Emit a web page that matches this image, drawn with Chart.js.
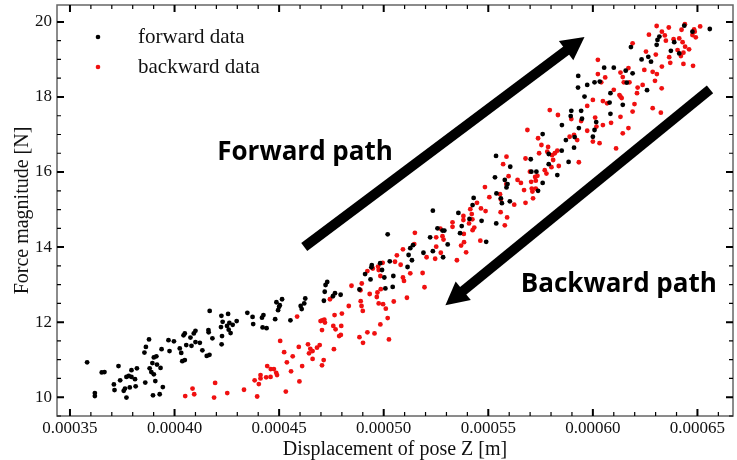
<!DOCTYPE html>
<html>
<head>
<meta charset="utf-8">
<script src="https://cdn.jsdelivr.net/npm/chart.js@4"></script>
<style>
  html, body { margin: 0; padding: 0; background: #fff; }
  #wrap { width: 737px; height: 460px; }
</style>
</head>
<body>
<div id="wrap"><canvas id="chart"></canvas></div>
<script>
// tick values
const xTicks = [0.00035, 0.0004, 0.00045, 0.0005, 0.00055, 0.0006, 0.00065];
const yTicks = [10, 12, 14, 16, 18, 20];

// forward run (black)
const forwardDisp = [
  0.0003582,0.0003619,0.0003619,0.0003652,0.0003665,0.0003732,0.0003710,0.0003713,0.0003740,0.0003757,
  0.0003763,0.0003770,0.0003770,0.0003781,0.0003786,0.0003794,0.0003794,0.0003811,0.0003814,0.0003820,
  0.0003856,0.0003863,0.0003878,0.0003860,0.0003881,0.0003894,0.0003889,0.0003901,0.0003908,0.0003901,
  0.0003913,0.0003916,0.0003933,0.0003938,0.0003944,0.0003897,0.0003929,0.0003971,0.0003997,0.0003976,
  0.0004025,0.0004032,0.0004037,0.0004049,0.0004043,0.0004049,0.0004056,0.0004076,0.0004081,0.0004100,
  0.0004100,
  0.0004168,0.0004092,0.0004121,0.0004133,0.0004154,0.0004167,0.0004162,0.0004163,0.0004181,0.0004224,
  0.0004256,0.0004230,0.0004222,0.0004251,0.0004262,0.0004259,0.0004278,0.0004268,0.0004297,0.0004227,
  0.0004225,0.0004348,0.0004373,0.0004376,0.0004418,0.0004425,0.0004421,0.0004440,0.0004481,0.0004487,
  0.0004495,0.0004500,0.0004503,0.0004514,0.0004554,0.0004603,0.0004608,0.0004620,0.0004625,0.0004714,
  0.0004718,0.0004722,0.0004730,
  0.0004757,0.0004767,0.0004794,0.0004884,0.0004911,0.0004937,0.0004941,0.0004943,0.0004983,0.0004992,
  0.0005003,0.0005008,0.0005019,0.0005029,0.0005046,0.0005043,0.0005114,0.0005119,0.0005127,0.0005135,
  0.0005140,0.0005190,0.0005222,0.0005235,0.0005235,0.0005257,
  0.0005281,0.0005290,0.0005306,0.0005284,0.0005357,0.0005373,0.0005365,0.0005410,0.0005425,0.0005430,
  0.0005468,0.0005490,0.0005537,0.0005532,0.0005539,0.0005538,0.0005560,0.0005565,0.0005579,0.0005587,
  0.0005592,0.0005605,0.0005603,0.0005703,0.0005760,0.0005738,0.0005760,0.0005706,0.0005730,0.0005789,
  0.0005789,0.0005830,
  0.0005930,0.0005929,0.0005973,0.0006008,0.0006054,0.0006100,0.0006033,0.0006157,0.0006190,0.0006162,
  0.0006182,0.0006305,0.0006265,0.0006278,0.0006259,0.0005960,0.0006084,0.0006080,0.0006143,0.0005897,
  0.0005944,0.0005894,0.0005948,0.0005852,0.0005933,0.0006016,0.0006008,0.0006084,0.0006000,0.0005913,
  0.0005910,0.0005871,0.0005851,0.0005884,
  0.0006559,0.0006437,0.0006318,0.0006309,0.0006389,0.0006476,0.0006373,0.0006413,0.0006233
];
const forwardForce = [
  10.93,10.11,10.03,10.66,10.67,10.83,10.34,10.19,10.45,10.17,
  10.23,9.99,10.54,10.57,10.26,10.72,10.54,10.48,10.29,10.77,
  11.19,11.34,11.54,10.39,10.77,10.91,10.67,10.61,10.43,11.06,
  11.09,10.87,10.78,11.28,10.27,10.05,10.08,11.52,11.49,11.23,
  11.30,11.18,10.96,10.99,11.65,11.70,11.39,11.59,11.37,11.77,
  11.47,
  12.30,11.70,11.45,11.25,11.10,11.13,11.79,11.73,11.57,12.17,
  12.22,12.01,11.87,11.90,11.98,11.80,11.93,11.71,12.03,11.63,
  11.41,12.25,12.14,11.95,12.12,12.19,11.86,11.84,12.08,12.53,
  12.32,12.41,12.45,12.61,12.05,12.43,12.35,12.50,12.63,12.57,
  12.81,12.99,13.07,
  12.69,12.77,12.73,12.87,13.28,13.14,13.46,13.52,13.57,13.39,
  13.19,12.90,14.34,13.62,13.23,12.94,13.47,13.79,13.97,13.65,
  14.05,13.85,14.26,13.89,14.97,14.50,
  14.44,14.44,14.07,13.73,14.91,14.56,14.37,14.75,15.12,15.31,
  14.70,14.14,16.43,15.86,15.43,14.63,15.30,15.17,15.79,15.59,
  15.68,16.14,15.22,16.34,17.01,15.50,15.71,16.01,16.01,16.21,
  16.48,15.92,
  18.56,18.25,18.32,18.39,18.78,18.78,18.41,18.70,18.63,18.38,
  19.33,19.39,19.07,18.94,18.18,18.01,18.10,17.85,17.79,17.63,
  17.63,17.49,17.42,17.25,17.17,17.33,17.12,17.55,16.94,16.93,
  16.65,16.85,16.57,16.27,
  19.81,19.90,19.61,19.52,19.46,19.74,19.23,19.16,19.00
];

// backward run (red)
const backwardDisp = [
  0.0004051,0.0004086,0.0004094,
  0.0004194,0.0004189,0.0004252,0.0004332,0.0004395,0.0004383,0.0004403,0.0004411,0.0004411,0.0004438,
  0.0004443,0.0004459,0.0004460,0.0004475,0.0004486,0.0004490,0.0004505,0.0004524,0.0004532,0.0004537,
  0.0004557,0.0004565,0.0004586,0.0004594,0.0004597,0.0004610,0.0004638,0.0004643,0.0004649,0.0004660,
  0.0004660,0.0004681,0.0004694,0.0004705,0.0004713,0.0004698,0.0004706,0.0004716,0.0004719,0.0004705,
  0.0004743,0.0004765,0.0004800,0.0004759,0.0004770,0.0004797,0.0004787,0.0004795,0.0004762,0.0004833,
  0.0004846,0.0004889,0.0004890,0.0004894,0.0004900,0.0004895,0.0004884,0.0004901,0.0004922,0.0004933,
  0.0004956,0.0004970,0.0004967,0.0004976,0.0004984,0.0004986,0.0004997,0.0005010,0.0005019,0.0005025,
  0.0005048,0.0004922,0.0004948,0.0004973,0.0004976,0.0004995,0.0004984,0.0005054,0.0005063,0.0005081,
  0.0005092,0.0005097,0.0005111,0.0005092,0.0005127,0.0005146,0.0005149,0.0005186,0.0005195,0.0005205,
  0.0005246,0.0005251,0.0005251,
  0.0005271,0.0005273,0.0005281,0.0005286,0.0005329,0.0005329,0.0005350,0.0005370,0.0005381,0.0005381,
  0.0005383,0.0005384,0.0005394,0.0005408,0.0005414,0.0005421,0.0005424,0.0005425,0.0005433,0.0005446,
  0.0005462,0.0005465,0.0005487,0.0005484,0.0005505,0.0005556,0.0005560,0.0005559,0.0005571,0.0005587,
  0.0005597,0.0005586,0.0005590,0.0005579,0.0005624,0.0005640,0.0005656,0.0005678,0.0005678,0.0005671,
  0.0005687,0.0005699,0.0005705,0.0005708,0.0005714,0.0005711,0.0005724,0.0005727,0.0005735,0.0005727,
  0.0005738,0.0005743,0.0005754,0.0005770,0.0005778,0.0005782,0.0005786,0.0005802,0.0005810,0.0005818,
  0.0006024,0.0006024,0.0006040,0.0006059,0.0006132,0.0006143,0.0006148,0.0006170,0.0006175,0.0006190,
  0.0006254,0.0006301,0.0006246,0.0006286,0.0006306,0.0006330,0.0006297,0.0006329,0.0006238,0.0006214,
  0.0006211,0.0006100,0.0006127,0.0006132,0.0006138,0.0006000,0.0006048,0.0006068,0.0006199,0.0006190,
  0.0006286,0.0006325,0.0005973,0.0005794,0.0005833,0.0005897,0.0005944,0.0006011,0.0006017,0.0006048,
  0.0006087,0.0006132,0.0006143,0.0006170,0.0005973,0.0005910,0.0005925,0.0005889,0.0006000,0.0006032,
  0.0006111,0.0005830,0.0005805,0.0005837,0.0005933,
  0.0006305,0.0006363,0.0006268,0.0006330,0.0006344,0.0006349,0.0006386,0.0006413,0.0006429,0.0006424,
  0.0006440,0.0006476,0.0006487,0.0006492,0.0006513,0.0006484,0.0006460,0.0006441,0.0006433,0.0006421,
  0.0006405,0.0006365,0.0006370,0.0006433,0.0006479
];
const backwardForce = [
  10.03,10.23,10.08,
  10.38,9.99,10.11,10.20,10.02,10.45,10.35,10.50,10.59,10.53,
  10.83,10.54,10.75,10.75,10.65,10.59,11.50,11.20,10.15,10.93,
  10.69,11.09,12.15,11.34,10.42,10.83,11.41,11.17,11.29,11.23,
  11.02,11.32,11.39,10.85,10.99,12.03,12.05,12.07,11.99,11.79,
  12.61,12.19,12.23,11.90,11.81,11.90,11.63,11.66,11.28,12.43,
  12.97,12.85,12.56,12.43,12.30,13.03,11.60,11.45,11.73,12.75,
  11.70,12.79,12.67,12.50,11.94,12.88,12.48,12.36,12.11,11.54,
  12.55,13.36,13.43,13.48,13.39,13.58,13.23,13.61,13.78,13.53,
  13.19,13.10,12.65,13.94,13.30,14.08,14.38,13.31,12.93,13.73,
  13.69,14.26,14.01,
  14.49,13.85,14.29,14.20,14.66,14.54,13.65,14.04,14.83,14.72,
  14.35,14.13,13.86,14.63,15.01,14.88,14.74,14.45,14.52,15.18,
  14.17,15.03,14.96,15.60,15.33,15.41,15.27,14.93,16.21,16.41,
  15.89,15.68,14.79,14.58,15.13,15.79,15.71,16.36,15.18,15.52,
  17.12,16.01,15.74,15.56,15.30,15.48,15.87,15.77,15.90,15.56,
  16.90,16.50,16.72,16.05,15.96,16.54,16.67,16.13,16.32,16.50,
  18.99,18.61,18.39,18.52,18.65,18.53,18.39,18.77,18.39,19.43,
  19.21,19.13,18.72,18.67,18.61,18.81,18.43,18.23,18.32,18.25,
  18.10,18.19,18.05,18.01,17.97,17.92,17.89,17.83,17.81,17.61,
  17.70,17.58,17.76,17.65,17.52,17.41,17.36,17.45,17.21,17.25,
  17.31,17.47,17.03,17.17,17.10,16.99,16.85,16.94,16.81,16.77,
  16.63,16.57,16.45,16.16,16.26,
  19.89,19.85,19.66,19.74,19.64,19.50,19.54,19.56,19.46,19.79,
  19.94,19.65,19.74,19.59,19.88,19.80,19.27,19.34,19.18,19.09,
  19.25,19.06,18.91,18.88,18.83
];

// annotation arrows / labels, in data units
const forwardArrow = { from: [0.000462, 14.0], to: [0.000596, 19.6] };
const backwardArrow = { from: [0.000656, 18.2], to: [0.0005295, 12.45] };
const forwardLabel = { text: "Forward path", at: [0.0004624, 16.51] };
const backwardLabel = { text: "Backward path", at: [0.0006124, 13.0] };

const serif = "'Liberation Serif', 'Times New Roman', serif";

function toPoints(xs, ys) {
    return xs.map((x, i) => ({ x: x, y: ys[i] }));
}

function drawArrow(ctx, x1, y1, x2, y2) {
    const ang = Math.atan2(y2 - y1, x2 - x1);
    const headLen = 23, headHalf = 12, shaft = 10;
    const bx = x2 - headLen * Math.cos(ang), by = y2 - headLen * Math.sin(ang);
    ctx.save();
    ctx.strokeStyle = "#000";
    ctx.fillStyle = "#000";
    ctx.lineWidth = shaft;
    ctx.lineCap = "butt";
    ctx.beginPath();
    ctx.moveTo(x1, y1);
    ctx.lineTo(bx + 2 * Math.cos(ang), by + 2 * Math.sin(ang));
    ctx.stroke();
    ctx.beginPath();
    ctx.moveTo(x2, y2);
    ctx.lineTo(bx - headHalf * Math.sin(ang), by + headHalf * Math.cos(ang));
    ctx.lineTo(bx + headHalf * Math.sin(ang), by - headHalf * Math.cos(ang));
    ctx.closePath();
    ctx.fill();
    ctx.restore();
}

// inward ticks on all four sides, frame, arrows, labels, legend
const decorations = {
    id: "decorations",
    afterDatasetsDraw(chart) {
        const { ctx, chartArea: a, scales: { x, y } } = chart;
        ctx.save();

        ctx.strokeStyle = "#666";
        ctx.lineWidth = 1.5;
        ctx.strokeRect(a.left, a.top, a.right - a.left, a.bottom - a.top);

        ctx.strokeStyle = "#000";
        for (let k = 0; k <= 40; k++) {
            const v = 0.00034 + k * 0.00001;
            if (v < x.min || v > x.max) continue;
            const px = x.getPixelForValue(v);
            const major = xTicks.some(t => Math.abs(t - v) < 1e-9);
            const len = major ? 7 : 4;
            ctx.lineWidth = major ? 2 : 1.2;
            ctx.beginPath();
            ctx.moveTo(px, a.bottom); ctx.lineTo(px, a.bottom - len);
            ctx.moveTo(px, a.top); ctx.lineTo(px, a.top + len);
            ctx.stroke();
        }
        for (let k = 0; k <= 24; k++) {
            const v = 9.5 + k * 0.5;
            if (v < y.min || v > y.max) continue;
            const py = y.getPixelForValue(v);
            const major = yTicks.includes(v);
            const len = major ? 7 : 4;
            ctx.lineWidth = major ? 2 : 1.2;
            ctx.beginPath();
            ctx.moveTo(a.left, py); ctx.lineTo(a.left + len, py);
            ctx.moveTo(a.right, py); ctx.lineTo(a.right - len, py);
            ctx.stroke();
        }

        drawArrow(ctx,
            x.getPixelForValue(forwardArrow.from[0]), y.getPixelForValue(forwardArrow.from[1]),
            x.getPixelForValue(forwardArrow.to[0]), y.getPixelForValue(forwardArrow.to[1]));
        drawArrow(ctx,
            x.getPixelForValue(backwardArrow.from[0]), y.getPixelForValue(backwardArrow.from[1]),
            x.getPixelForValue(backwardArrow.to[0]), y.getPixelForValue(backwardArrow.to[1]));

        ctx.fillStyle = "#000";
        ctx.font = "bold 26px 'Open Sans', 'Noto Sans', sans-serif";
        ctx.textAlign = "center";
        ctx.textBaseline = "middle";
        [forwardLabel, backwardLabel].forEach(l => {
            ctx.fillText(l.text, x.getPixelForValue(l.at[0]), y.getPixelForValue(l.at[1]));
        });

        // legend
        ctx.font = "21px " + serif;
        ctx.textAlign = "left";
        chart.data.datasets.forEach((ds, i) => {
            const ly = 37 + i * 30;
            ctx.fillStyle = ds.backgroundColor;
            ctx.beginPath();
            ctx.arc(98, ly, 2.3, 0, Math.PI * 2);
            ctx.fill();
            ctx.fillStyle = "#111";
            ctx.fillText(ds.label, 138, ly);
        });
        ctx.restore();
    }
};

new Chart(document.getElementById("chart"), {
    type: "scatter",
    data: {
        datasets: [
            {
                label: "forward data",
                data: toPoints(forwardDisp, forwardForce),
                backgroundColor: "#000",
                borderWidth: 0,
                pointRadius: 2.4
            },
            {
                label: "backward data",
                data: toPoints(backwardDisp, backwardForce),
                backgroundColor: "#f01010",
                borderWidth: 0,
                pointRadius: 2.4
            }
        ]
    },
    options: {
        responsive: true,
        maintainAspectRatio: false,
        animation: false,
        events: [],
        layout: { padding: { top: 5, right: 1, left: 0, bottom: 0 } },
        plugins: {
            legend: { display: false },
            tooltip: { enabled: false }
        },
        scales: {
            x: {
                type: "linear",
                min: 0.0003438,
                max: 0.000667,
                afterBuildTicks: s => { s.ticks = xTicks.map(v => ({ value: v })); },
                afterFit: s => { s.height = 44; s.paddingLeft = 0; s.paddingRight = 0; },
                grid: { display: false, drawTicks: false },
                border: { display: false },
                ticks: {
                    color: "#111",
                    padding: 2,
                    maxRotation: 0,
                    font: { family: serif, size: 17 },
                    callback: v => v.toFixed(5)
                },
                title: {
                    display: true,
                    text: "Displacement of pose Z [m]",
                    color: "#111",
                    padding: { top: 0, bottom: 0 },
                    font: { family: serif, size: 20, lineHeight: 1.0 }
                }
            },
            y: {
                type: "linear",
                min: 9.5,
                max: 20.45,
                afterBuildTicks: s => { s.ticks = yTicks.map(v => ({ value: v })); },
                afterFit: s => { s.width = 57; s.paddingTop = 0; s.paddingBottom = 0; },
                grid: { display: false, drawTicks: false },
                border: { display: false },
                ticks: {
                    color: "#111",
                    padding: 5,
                    font: { family: serif, size: 17 },
                    callback: v => String(v)
                },
                title: {
                    display: true,
                    text: "Force magnitude [N]",
                    color: "#111",
                    padding: { top: 11, bottom: 0 },
                    font: { family: serif, size: 20 }
                }
            }
        }
    },
    plugins: [decorations]
});
</script>
</body>
</html>
